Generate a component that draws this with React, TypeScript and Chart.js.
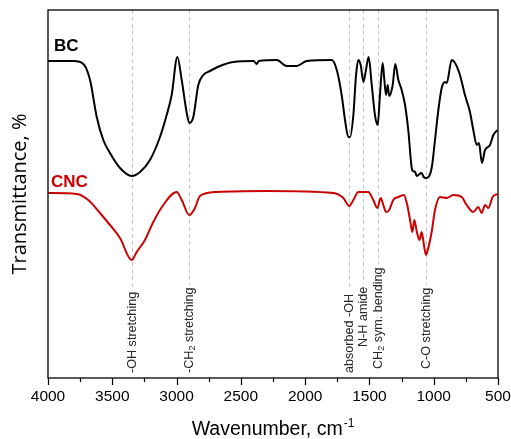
import { useEffect, useRef } from 'react';
import { Chart, registerables } from 'chart.js';

Chart.register(...registerables);

// ---- data (wavenumber in cm-1, transmittance in arbitrary offset units) ----
const bcWavenumber = [
  4000, 3800, 3725, 3673, 3621, 3570, 3518, 3440, 3349, 3284, 3207, 3129, 3077, 3038, 2994, 2960,
  2921, 2901, 2870, 2831, 2792, 2740, 2662, 2559, 2400, 2377, 2360, 2221, 2144, 2066, 1988, 1793,
  1754, 1716, 1690, 1664, 1651, 1625, 1604, 1586, 1568, 1547, 1527, 1506, 1482, 1457, 1436, 1418,
  1397, 1384, 1371, 1358, 1346, 1319, 1299, 1275, 1249, 1223, 1198, 1171, 1160, 1145, 1132, 1120,
  1094, 1078, 1060, 1016, 990, 964, 938, 912, 899, 860, 834, 796, 757, 718, 692, 666, 648, 625, 601,
  562, 536, 505,
];
const bcTransmittance = [
  316, 316, 313, 297, 260, 237, 224, 209, 201, 205, 217, 240, 262, 282, 320, 297,
  264, 254, 260, 292, 302, 306, 311, 315, 316, 313, 316, 317, 311, 311, 316, 317,
  307, 282, 257, 240, 240, 262, 302, 317, 312, 295, 307, 320, 292, 262, 252, 282,
  314, 297, 282, 292, 281, 292, 313, 297, 287, 272, 247, 209, 206, 205, 201, 202,
  204, 200, 199, 209, 237, 267, 289, 295, 294, 317, 314, 302, 282, 265, 247, 232, 234, 214, 227,
  232, 242, 247,
];
const cncWavenumber = [
  4000, 3777, 3687, 3596, 3518, 3440, 3349, 3310, 3246, 3181, 3103, 2999, 2960, 2901, 2857, 2818,
  2688, 2299, 1781, 1703, 1657, 1625, 1586, 1509, 1470, 1439, 1412, 1392, 1371, 1346, 1315, 1275,
  1232, 1206, 1184, 1166, 1151, 1131, 1110, 1094, 1076, 1060, 1042, 1016, 990, 951, 899, 847, 782,
  744, 692, 653, 627, 601, 575, 542, 505,
];
const cncTransmittance = [
  184, 183, 177, 164, 152, 139, 117, 125, 137, 155, 172, 185, 177, 162, 169, 181,
  185, 186, 184, 179, 171, 177, 185, 185, 177, 169, 179, 172, 165, 167, 177, 180,
  182, 172, 157, 145, 157, 145, 137, 145, 132, 122, 129, 145, 167, 180, 179, 182, 180,
  172, 165, 170, 164, 172, 169, 180, 183,
];
const seriesNames = ['BC', 'CNC'];
const xTickValues = [4000, 3500, 3000, 2500, 2000, 1500, 1000, 500];
const xTickLabels = ['4000', '3500', '3000', '2500', '2000', '1500', '1000', '500'];
const xMinorTickValues = [3750, 3250, 2750, 2250, 1750, 1250, 750];
const peakWavenumbers = [3345, 2900, 1655, 1550, 1435, 1060];
const peakLabels = ['-OH stretching', '-CH_2 stretching', 'absorbed -OH', 'N-H amide', 'CH_2 sym. bending', 'C-O stretching'];
const xTitle = 'Wavenumber, cm';
const xTitleSup = '-1';
const yTitle = 'Transmittance, %';

// ---- styles / layout ----
const W = 511;
const H = 439;
const COLORS = { bc: '#000000', cnc: '#cc0000', guide: '#c4c4c4', label: '#262626' };
const ARIAL = '"Liberation Sans", Arial, sans-serif';
const LABEL_FONT = 12.6;
const LABEL_SUB_FONT = 9;
const LABEL_BOTTOMS = [373, 373, 373, 347, 369, 369];
const SERIES_LABEL_POS = [
  { x: 54, y: 51 },
  { x: 51, y: 187 },
];

function splitParts(s: string) {
  const parts: { t: string; sub: boolean }[] = [];
  const re = /_(\d)/g;
  let last = 0;
  let m: RegExpExecArray | null;
  while ((m = re.exec(s))) {
    if (m.index > last) parts.push({ t: s.slice(last, m.index), sub: false });
    parts.push({ t: m[1], sub: true });
    last = m.index + m[0].length;
  }
  if (last < s.length) parts.push({ t: s.slice(last), sub: false });
  return parts;
}

function measureParts(ctx: CanvasRenderingContext2D, s: string) {
  let w = 0;
  for (const p of splitParts(s)) {
    ctx.font = `${p.sub ? LABEL_SUB_FONT : LABEL_FONT}px ${ARIAL}`;
    w += ctx.measureText(p.t).width;
  }
  return w;
}

const decorPlugin = {
  id: 'decor',
  beforeDatasetsDraw(chart: any) {
    const { ctx, chartArea, scales } = chart;
    const x = scales.x;
    ctx.save();
    ctx.strokeStyle = COLORS.guide;
    ctx.lineWidth = 1;
    ctx.setLineDash([4, 3]);
    peakWavenumbers.forEach((w, i) => {
      const px = Math.round(x.getPixelForValue(w)) + 0.5;
      const len = measureParts(ctx, peakLabels[i]);
      const top = LABEL_BOTTOMS[i] - len - 3;
      ctx.beginPath();
      ctx.moveTo(px, chartArea.top);
      ctx.lineTo(px, top);
      ctx.stroke();
    });
    ctx.restore();
  },
  afterDraw(chart: any) {
    const { ctx, chartArea, scales } = chart;
    const x = scales.x;
    const { left, right, top, bottom } = chartArea;
    ctx.save();
    // frame
    ctx.strokeStyle = '#000';
    ctx.lineWidth = 1.3;
    ctx.setLineDash([]);
    ctx.strokeRect(left, top, right - left, bottom - top);
    // ticks
    ctx.lineWidth = 1.2;
    ctx.beginPath();
    xTickValues.forEach((v) => {
      const px = Math.round(x.getPixelForValue(v)) + 0.5;
      ctx.moveTo(px, bottom);
      ctx.lineTo(px, bottom + 7);
    });
    xMinorTickValues.forEach((v) => {
      const px = Math.round(x.getPixelForValue(v)) + 0.5;
      ctx.moveTo(px, bottom);
      ctx.lineTo(px, bottom + 4);
    });
    ctx.stroke();
    // tick labels
    ctx.fillStyle = '#000';
    ctx.font = `15.5px ${ARIAL}`;
    ctx.textAlign = 'center';
    ctx.textBaseline = 'middle';
    xTickValues.forEach((v, i) => {
      ctx.fillText(xTickLabels[i], x.getPixelForValue(v), 397);
    });

    // peak labels
    ctx.fillStyle = COLORS.label;
    ctx.textAlign = 'left';
    ctx.textBaseline = 'middle';
    peakWavenumbers.forEach((w, i) => {
      const px = x.getPixelForValue(w) + 0.5;
      ctx.save();
      ctx.translate(px, LABEL_BOTTOMS[i]);
      ctx.rotate(-Math.PI / 2);
      let cx = 0;
      for (const p of splitParts(peakLabels[i])) {
        ctx.font = `${p.sub ? LABEL_SUB_FONT : LABEL_FONT}px ${ARIAL}`;
        ctx.fillText(p.t, cx, p.sub ? 3 : 0);
        cx += ctx.measureText(p.t).width;
      }
      ctx.restore();
    });

    // series labels
    ctx.textBaseline = 'alphabetic';
    ctx.font = `bold 17px ${ARIAL}`;
    ctx.fillStyle = COLORS.bc;
    ctx.fillText(seriesNames[0], SERIES_LABEL_POS[0].x, SERIES_LABEL_POS[0].y);
    ctx.fillStyle = COLORS.cnc;
    ctx.fillText(seriesNames[1], SERIES_LABEL_POS[1].x, SERIES_LABEL_POS[1].y);

    // x title
    ctx.fillStyle = '#000';
    ctx.font = `19.5px ${ARIAL}`;
    const mainW = ctx.measureText(xTitle).width;
    ctx.font = `12px ${ARIAL}`;
    const supW = ctx.measureText(xTitleSup).width;
    const cxTitle = (left + right) / 2;
    const startX = cxTitle - (mainW + supW + 1) / 2;
    ctx.font = `19.5px ${ARIAL}`;
    ctx.fillText(xTitle, startX, 435);
    ctx.font = `12px ${ARIAL}`;
    ctx.fillText(xTitleSup, startX + mainW + 1, 427);

    // y title
    ctx.save();
    ctx.translate(20, (top + bottom) / 2);
    ctx.rotate(-Math.PI / 2);
    ctx.textAlign = 'center';
    ctx.textBaseline = 'middle';
    ctx.font = `20px "Open Sans", ${ARIAL}`;
    ctx.fillText(yTitle, 0, 0);
    ctx.restore();

    ctx.restore();
  },
};

export default function App() {
  const ref = useRef<HTMLCanvasElement | null>(null);
  useEffect(() => {
    if (!ref.current) return;
    const chart = new Chart(ref.current, {
      type: 'line',
      data: {
        datasets: [
          {
            label: seriesNames[0],
            data: bcWavenumber.map((w, i) => ({ x: w, y: bcTransmittance[i] })),
            borderColor: COLORS.bc,
            borderWidth: 2,
            pointRadius: 0,
            cubicInterpolationMode: 'monotone',
            borderJoinStyle: 'round',
          },
          {
            label: seriesNames[1],
            data: cncWavenumber.map((w, i) => ({ x: w, y: cncTransmittance[i] })),
            borderColor: COLORS.cnc,
            borderWidth: 2,
            pointRadius: 0,
            cubicInterpolationMode: 'monotone',
            borderJoinStyle: 'round',
          },
        ],
      },
      options: {
        animation: false,
        responsive: false,
        devicePixelRatio: 1,
        layout: { padding: { left: 48, right: 13, top: 10, bottom: 0 } },
        plugins: { legend: { display: false }, tooltip: { enabled: false } },
        scales: {
          x: {
            type: 'linear',
            reverse: true,
            min: 500,
            max: 4000,
            grid: { display: false, drawTicks: false },
            border: { display: false },
            ticks: { display: false, stepSize: 500 },
            afterFit: (s: any) => {
              s.height = 61;
            },
          },
          y: {
            display: false,
            min: -1,
            max: 367,
          },
        },
      },
      plugins: [decorPlugin],
    });
    return () => chart.destroy();
  }, []);
  return (
    <div style={{ position: 'fixed', left: 0, top: 0, width: W, height: H, background: '#fff' }}>
      <canvas ref={ref} width={W} height={H} />
    </div>
  );
}
